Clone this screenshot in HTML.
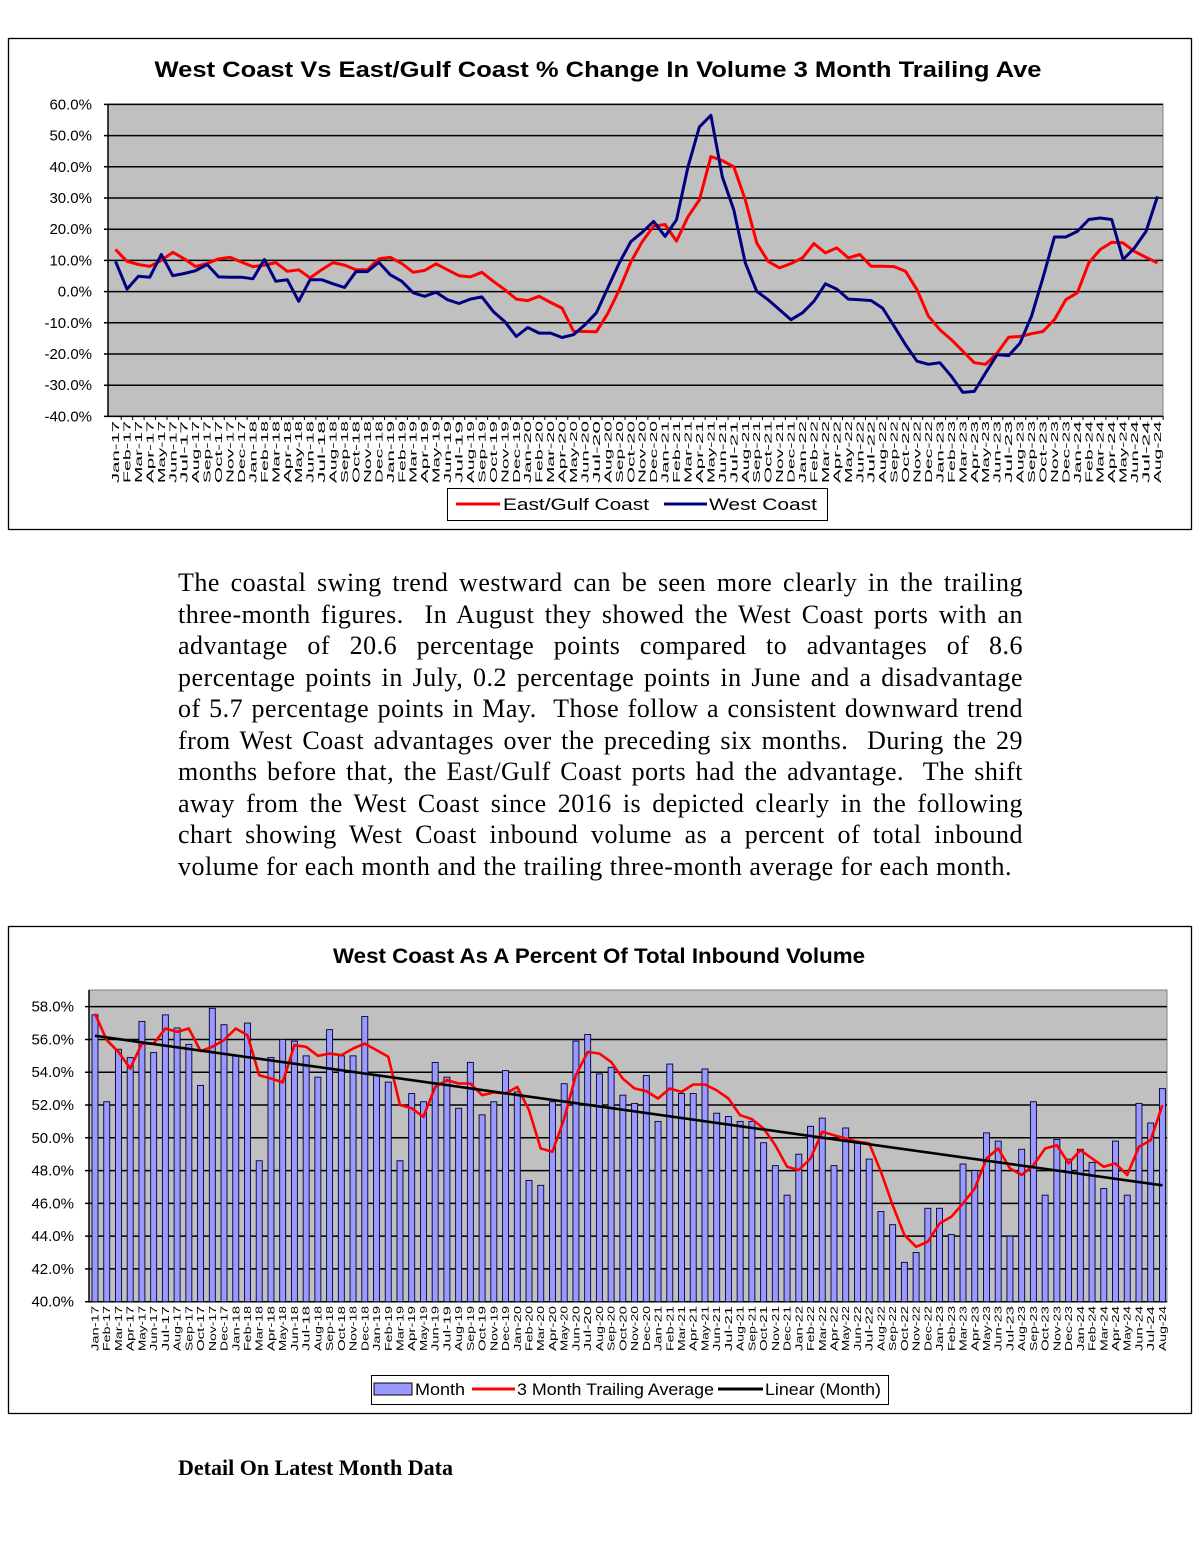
<!DOCTYPE html>
<html><head><meta charset="utf-8"><style>
body{margin:0;background:#fff;width:1200px;height:1553px;position:relative;overflow:hidden;font-family:"Liberation Sans",Arial,sans-serif}
#para{position:absolute;left:178px;top:567px;width:845px;font-family:"Liberation Serif",serif;font-size:26px;letter-spacing:0.5px;line-height:31.5px;color:#000}
#para div{text-align:justify;text-align-last:justify;white-space:nowrap;height:31.5px}
#para div.last{text-align-last:left}
#detail{position:absolute;left:178px;top:1455px;font-family:"Liberation Serif",serif;font-weight:bold;font-size:22px}
svg{position:absolute;left:0;top:0}
</style></head><body>
<svg id="svg" width="1200" height="1553"></svg>
<div id="para">
<div>The coastal swing trend westward can be seen more clearly in the trailing</div>
<div>three-month figures.&nbsp; In August they showed the West Coast ports with an</div>
<div>advantage of 20.6 percentage points compared to advantages of 8.6</div>
<div>percentage points in July, 0.2 percentage points in June and a disadvantage</div>
<div>of 5.7 percentage points in May.&nbsp; Those follow a consistent downward trend</div>
<div>from West Coast advantages over the preceding six months.&nbsp; During the 29</div>
<div>months before that, the East/Gulf Coast ports had the advantage.&nbsp; The shift</div>
<div>away from the West Coast since 2016 is depicted clearly in the following</div>
<div>chart showing West Coast inbound volume as a percent of total inbound</div>
<div class="last">volume for each month and the trailing three-month average for each month.</div>
</div>
<div id="detail">Detail On Latest Month Data</div>
<script>
const monthNames=["Jan","Feb","Mar","Apr","May","Jun","Jul","Aug","Sep","Oct","Nov","Dec"];
const categories=[];
for(let y=17;y<=24;y++)for(let m=0;m<12;m++){if(y===24&&m>7)break;categories.push(monthNames[m]+"-"+y);}
const eastGulf=[13.5,9.7,8.7,8.1,10,12.6,10.5,8,9,10.5,11,9.5,8,8.5,9.3,6.5,7,4.4,7,9.3,8.5,7,7,10.5,11,9,6.2,6.8,8.9,7,5.1,4.7,6.2,3.3,0.6,-2.4,-2.9,-1.5,-3.5,-5.3,-12.7,-12.8,-12.9,-7,0.6,9.5,16,21,21.5,16.2,24,29.4,43.3,42,40,29.4,15.6,9.7,7.6,9,10.8,15.4,12.4,14,10.8,11.9,8.1,8.1,8,6.5,0.6,-7.9,-12.2,-15.4,-19.1,-22.8,-23.3,-19.7,-14.6,-14.4,-13.5,-12.8,-9,-2.6,-0.4,9.2,13.5,15.8,15.6,12.9,11,9.2];
const westCoast=[9.7,0.8,4.9,4.6,11.9,5.1,5.8,6.7,8.7,4.7,4.6,4.6,4.1,10.3,3.3,3.8,-3.1,3.8,3.8,2.5,1.3,6.4,6.4,9.4,5.4,3.3,-0.4,-1.5,-0.2,-2.6,-3.8,-2.4,-1.7,-6.4,-9.6,-14.4,-11.5,-13.3,-13.3,-14.7,-13.8,-10.6,-6.8,1.2,9.2,16,19,22.5,17.7,23,40,52.8,56.5,36.8,26.2,9.2,0.1,-2.6,-5.8,-9,-6.8,-3.1,2.5,0.8,-2.4,-2.6,-2.9,-5.3,-11.1,-17,-22.3,-23.3,-22.8,-27.1,-32.3,-32,-26,-20.2,-20.5,-16.5,-7.9,4.4,17.5,17.5,19.3,23.1,23.6,23.1,10.3,14,19.3,30.5];
const ticks1=[60,50,40,30,20,10,0,-10,-20,-30,-40];
const monthShare=[57.5,52.2,55.4,54.9,57.1,55.2,57.5,56.7,55.7,53.2,57.9,56.9,55,57,48.6,54.9,56,55.9,55,53.7,56.6,55,55,57.4,53.8,53.4,48.6,52.7,52.2,54.6,53.7,51.8,54.6,51.4,52.2,54.1,52.8,47.4,47.1,52.2,53.3,55.9,56.3,53.9,54.3,52.6,52.1,53.8,51,54.5,52.7,52.7,54.2,51.5,51.3,51,51,49.7,48.3,46.5,49,50.7,51.2,48.3,50.6,49.7,48.7,45.5,44.7,42.4,43,45.7,45.7,44.1,48.4,48,50.3,49.8,44,49.3,52.2,46.5,49.9,48.7,49.3,48.5,46.9,49.8,46.5,52.1,50.9,53];
const trailingAvg=[57.58,55.96,55.24,54.23,55.75,55.75,56.67,56.46,56.67,55.29,55.55,55.96,56.67,56.26,53.82,53.62,53.38,55.65,55.55,55,55.14,55.04,55.45,55.75,55.35,54.94,52,51.8,51.28,53.1,53.52,53.31,53.31,52.6,52.77,52.7,53.1,51.69,49.35,49.15,51.18,53.82,55.24,55.14,54.63,53.6,53.01,52.85,52.4,53.01,52.8,53.25,53.25,52.9,52.4,51.38,51.14,50.57,49.55,48.23,48.03,48.74,50.37,50.16,49.96,49.76,49.66,47.93,45.9,44.07,43.35,43.66,44.78,45.18,46,46.91,48.74,49.35,48.13,47.73,48.33,49.35,49.55,48.44,49.25,48.74,48.23,48.44,47.73,49.45,49.86,52];
const ticks2=[58,56,54,52,50,48,46,44,42,40];

const NS="http://www.w3.org/2000/svg";
const svg=document.getElementById('svg');
function mk(tag,attrs,parent){const e=document.createElementNS(NS,tag);for(const k in attrs)e.setAttribute(k,attrs[k]);(parent||svg).appendChild(e);return e;}

// ---------- Chart 1 ----------
const x1=i=>115.5+i*11.45;
const y1=v=>291.6-v*3.12;
let f1=mk('rect',{x:8.5,y:38.5,width:1183,height:491,fill:'#fff',stroke:'#000','stroke-width':1.3});


let t1=mk('text',{x:598,y:77,'text-anchor':'middle','font-size':22,'font-weight':'bold',textLength:887,lengthAdjust:'spacingAndGlyphs'});
t1.textContent='West Coast Vs East/Gulf Coast % Change In Volume 3 Month Trailing Ave';


let p1=mk('rect',{x:108,y:104,width:1055,height:312,fill:'#c0c0c0',stroke:'#808080'});


ticks1.forEach(v=>{
  const g=mk('line',{x1:104,x2:1163,y1:y1(v),y2:y1(v),stroke:'#000','stroke-width':1.5});
  
  
  const t=mk('text',{x:92,y:y1(v)+5,'text-anchor':'end','font-size':15});
  t.textContent=v.toFixed(1)+'%';
  
  
});
mk('line',{x1:108,x2:108,y1:104,y2:416,stroke:'#000','stroke-width':1.5});
categories.forEach((c,i)=>{
  mk('line',{x1:x1(i)+5.7,x2:x1(i)+5.7,y1:416,y2:420,stroke:'#000'});
  const t=mk('text',{x:0,y:0,'font-size':10,'text-anchor':'end',textLength:62,lengthAdjust:'spacingAndGlyphs',transform:`translate(${x1(i)+3.5},${421}) rotate(-90)`});
  t.textContent=c;
  
  
});
function line(data,xf,yf,color,name,w){
  const d=data.map((v,i)=>(i?'L':'M')+xf(i).toFixed(1)+','+yf(v).toFixed(1)).join('');
  const p=mk('path',{d,fill:'none',stroke:color,'stroke-width':w||3,'stroke-linejoin':'round'});
  
  
}
line(eastGulf,x1,y1,'#ff0000','east-gulf-line');
line(westCoast,x1,y1,'#000080','west-coast-line');
let lg1=mk('rect',{x:447.5,y:488.5,width:380,height:32,fill:'#fff',stroke:'#000'});


mk('line',{x1:456,x2:500,y1:504,y2:504,stroke:'#ff0000','stroke-width':3});
let le1=mk('text',{x:503,y:510,'font-size':17,textLength:146,lengthAdjust:'spacingAndGlyphs'});le1.textContent='East/Gulf Coast';


mk('line',{x1:664,x2:707,y1:504,y2:504,stroke:'#000080','stroke-width':3});
let le2=mk('text',{x:709,y:510,'font-size':17,textLength:108,lengthAdjust:'spacingAndGlyphs'});le2.textContent='West Coast';



// ---------- Chart 2 ----------
const x2=i=>95+i*11.73;
const y2=v=>1301.7-(v-40)*16.39;
let f2=mk('rect',{x:8.5,y:926.5,width:1183,height:487,fill:'#fff',stroke:'#000','stroke-width':1.3});


let t2=mk('text',{x:599,y:963,'text-anchor':'middle','font-size':21,'font-weight':'bold',textLength:532,lengthAdjust:'spacingAndGlyphs'});
t2.textContent='West Coast As A Percent Of Total Inbound Volume';


let p2=mk('rect',{x:89,y:990,width:1078,height:312,fill:'#c0c0c0',stroke:'#808080'});


ticks2.forEach(v=>{
  const g=mk('line',{x1:85,x2:1167,y1:y2(v),y2:y2(v),stroke:'#000','stroke-width':1.5});
  
  
  const t=mk('text',{x:74,y:y2(v)+5,'text-anchor':'end','font-size':15});
  t.textContent=v.toFixed(1)+'%';
  
  
});
mk('line',{x1:89,x2:89,y1:990,y2:1302,stroke:'#000','stroke-width':1.5});
monthShare.forEach((v,i)=>{
  const b=mk('rect',{x:x2(i)-3,y:y2(v),width:6,height:y2(40)-y2(v),fill:'#9999ff',stroke:'#000033','stroke-width':0.9});
  
  
});
categories.forEach((c,i)=>{
  const t=mk('text',{x:0,y:0,'font-size':10,'text-anchor':'end',textLength:45,lengthAdjust:'spacingAndGlyphs',transform:`translate(${x2(i)+3.5},${1306}) rotate(-90)`});
  t.textContent=c;
  
  
});
line(trailingAvg,x2,y2,'#ff0000','trailing-average-line',2.6);
(function(){
  const n=monthShare.length;let sx=0,sy=0,sxy=0,sxx=0;
  monthShare.forEach((v,i)=>{sx+=i;sy+=v;sxy+=i*v;sxx+=i*i;});
  const m=(n*sxy-sx*sy)/(n*sxx-sx*sx),b=(sy-m*sx)/n;
  const l=mk('line',{x1:x2(0),y1:y2(b),x2:x2(n-1),y2:y2(b+m*(n-1)),stroke:'#000','stroke-width':2.6});
  
  
})();
let lg2=mk('rect',{x:371.5,y:1375.5,width:517,height:29,fill:'#fff',stroke:'#000'});


mk('rect',{x:374,y:1383,width:38,height:12,fill:'#9999ff',stroke:'#000'});
let l21=mk('text',{x:415,y:1395,'font-size':17,textLength:50,lengthAdjust:'spacingAndGlyphs'});l21.textContent='Month';


mk('line',{x1:472,x2:515,y1:1389,y2:1389,stroke:'#ff0000','stroke-width':3});
let l22=mk('text',{x:517,y:1395,'font-size':17,textLength:197,lengthAdjust:'spacingAndGlyphs'});l22.textContent='3 Month Trailing Average';


mk('line',{x1:718,x2:763,y1:1389,y2:1389,stroke:'#000','stroke-width':3});
let l23=mk('text',{x:765,y:1395,'font-size':17,textLength:116,lengthAdjust:'spacingAndGlyphs'});l23.textContent='Linear (Month)';


</script>
</body></html>
